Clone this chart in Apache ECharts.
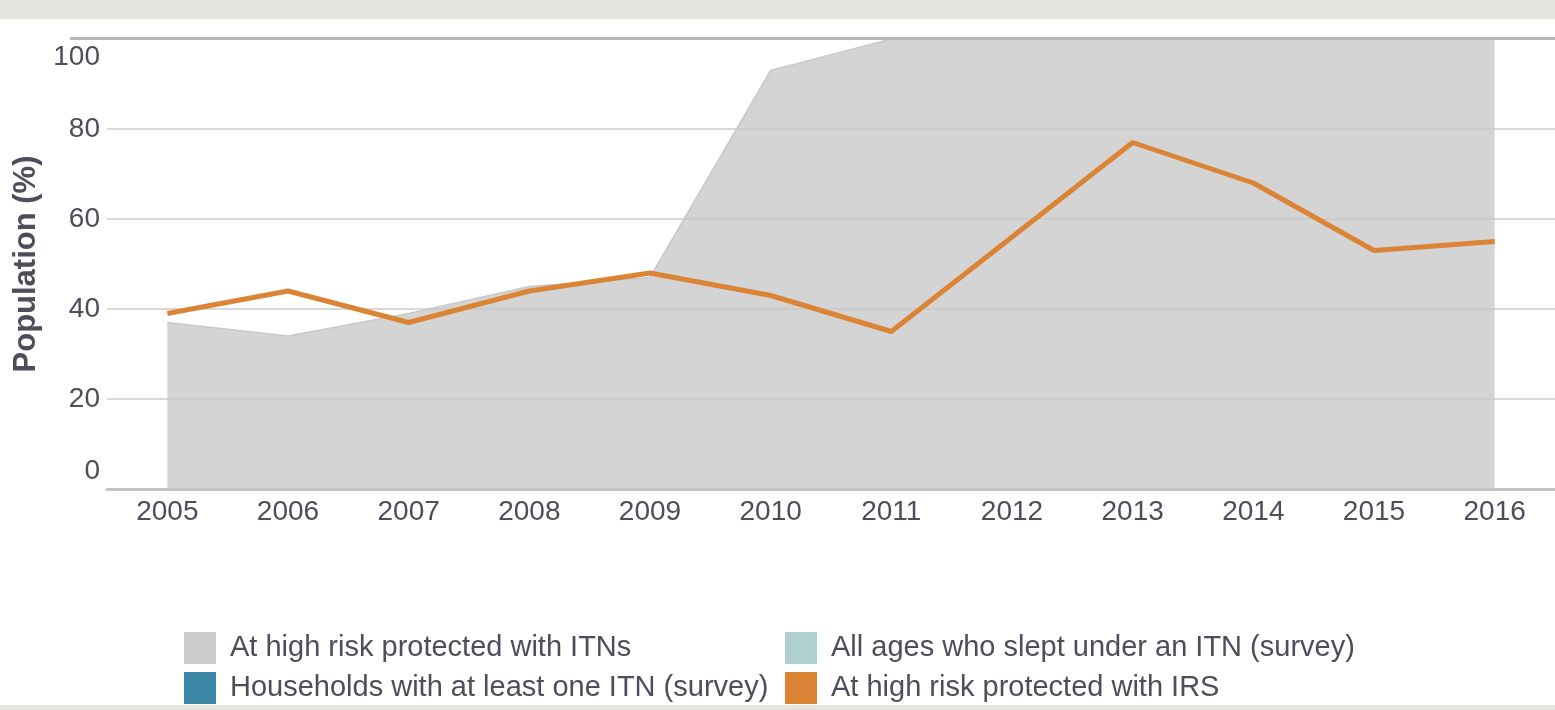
<!DOCTYPE html>
<html>
<head>
<meta charset="utf-8">
<script src="https://cdn.jsdelivr.net/npm/echarts@6/dist/echarts.min.js"></script>
<style>
html,body{margin:0;padding:0;background:#fff;}
#chart{width:1555px;height:710px;}
</style>
</head>
<body>
<div id="chart"></div>
<script>
var years = ['2005','2006','2007','2008','2009','2010','2011','2012','2013','2014','2015','2016'];
var itnHighRisk = [37, 34, 39, 45, 47, 93, 100, 100, 100, 100, 100, 100];
var irsHighRisk = [39, 44, 37, 44, 48, 43, 35, 56, 77, 68, 53, 55];
var allAgesSurvey = [];
var householdsSurvey = [];
var yTicks = [0, 20, 40, 60, 80, 100];

var FONT = '"Liberation Sans", Arial, Helvetica, sans-serif';
var TXT = '#4d4d5c';
var FS = 28;
var LFS = 29;

var chart = echarts.init(document.getElementById('chart'));
chart.setOption({
  animation: false,
  textStyle: { fontFamily: FONT },
  graphic: [
    { type: 'rect', shape: { x: 0, y: 0, width: 1555, height: 19 }, style: { fill: '#e5e4df' }, z: 100 },
    { type: 'rect', shape: { x: 0, y: 705, width: 1555, height: 5 }, style: { fill: '#e5e4df' }, z: 100 },
    { type: 'rect', shape: { x: 70, y: 37, width: 1485, height: 3 }, style: { fill: '#b9b9b9' }, z: 100 }
  ],
  grid: { left: 107, right: 0, top: 39, bottom: 221, outerBoundsMode: 'none', containLabel: false },
  xAxis: {
    type: 'category',
    data: years,
    boundaryGap: true,
    axisLine: { show: true, lineStyle: { color: '#c3c3c3', width: 3 } },
    axisTick: { show: false },
    splitLine: { show: false },
    axisLabel: { interval: 0, color: TXT, fontSize: FS, fontFamily: FONT, margin: 9 }
  },
  yAxis: {
    type: 'value',
    min: yTicks[0],
    max: yTicks[yTicks.length - 1],
    interval: 20,
    name: 'Population (%)',
    nameLocation: 'middle',
    nameGap: 59,
    nameRotate: 90,
    nameTextStyle: { color: TXT, fontSize: 31, fontWeight: 'bold', fontFamily: FONT },
    axisLine: { show: false },
    axisTick: { show: false },
    splitLine: { show: true, lineStyle: { color: '#d9d9d9', width: 2 } },
    axisLabel: {
      color: TXT, fontSize: FS, fontFamily: FONT, margin: 7,
      formatter: function (v) {
        if (v === yTicks[0]) return '{lo|' + v + '}';
        if (v === yTicks[yTicks.length - 1]) return '{hi|' + v + '}';
        return '' + v;
      },
      rich: {
        lo: { color: TXT, fontSize: FS, fontFamily: FONT, padding: [0, 0, 35, 0] },
        hi: { color: TXT, fontSize: FS, fontFamily: FONT, padding: [36, 0, 0, 0] }
      }
    }
  },
  legend: [
    {
      orient: 'vertical', left: 184, top: 632, padding: 0, itemWidth: 32, itemHeight: 32, itemGap: 8,
      icon: 'rect', selectedMode: false,
      textStyle: { color: TXT, fontSize: LFS, fontFamily: FONT, padding: [0, 0, 0, 9] },
      data: ['At high risk protected with ITNs', 'Households with at least one ITN (survey)']
    },
    {
      orient: 'vertical', left: 785, top: 632, padding: 0, itemWidth: 32, itemHeight: 32, itemGap: 8,
      icon: 'rect', selectedMode: false,
      textStyle: { color: TXT, fontSize: LFS, fontFamily: FONT, padding: [0, 0, 0, 9] },
      data: ['All ages who slept under an ITN (survey)', 'At high risk protected with IRS']
    }
  ],
  series: [
    {
      name: 'At high risk protected with ITNs',
      type: 'line',
      data: itnHighRisk,
      symbol: 'none',
      itemStyle: { color: '#cccccc' },
      lineStyle: { color: '#c9c9c9', width: 1.5 },
      areaStyle: { color: '#c6c6c6', opacity: 0.75 },
      z: 2
    },
    {
      name: 'All ages who slept under an ITN (survey)',
      type: 'line',
      data: allAgesSurvey,
      itemStyle: { color: '#b0cfd0' }
    },
    {
      name: 'Households with at least one ITN (survey)',
      type: 'line',
      data: householdsSurvey,
      itemStyle: { color: '#3c88a6' }
    },
    {
      name: 'At high risk protected with IRS',
      type: 'line',
      data: irsHighRisk,
      symbol: 'none',
      itemStyle: { color: '#db8436' },
      lineStyle: { color: '#db8436', width: 5 },
      z: 3
    }
  ]
});
</script>
</body>
</html>
